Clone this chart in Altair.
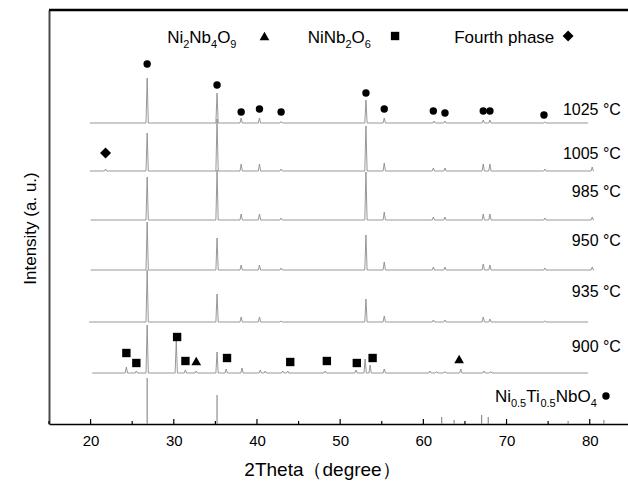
import altair as alt
import pandas as pd

# ---------------- data ----------------
temps = ["1025 °C", "1005 °C", "985 °C", "950 °C", "935 °C", "900 °C"]
offsets = [301, 253, 204, 154, 102, 51]          # vertical stacking offset (a.u.)
trace_start = [19.9, 19.9, 20.0, 20.0, 19.8, 20.2]
trace_end = [79.8, 80.5, 80.5, 80.5, 79.8, 79.8]

pos_1025 = [26.8, 35.2, 38.1, 40.3, 42.9, 53.1, 55.3, 61.3, 62.6, 67.2, 68.0, 74.6]
int_1025 = [45, 30, 5, 5, 1.5, 23, 5, 2, 2, 3, 3, 1]

pos_1005 = [21.8, 26.8, 35.2, 38.1, 40.3, 42.9, 53.1, 55.3, 61.2, 62.6, 67.2, 68.0, 74.6, 80.3]
int_1005 = [2, 38, 52, 7, 7, 2, 45, 8, 3, 3, 7, 7, 2, 4]

pos_985 = [26.8, 35.2, 38.1, 40.3, 42.9, 53.1, 55.3, 61.2, 62.6, 67.2, 68.0, 74.6, 80.3]
int_985 = [43, 50, 6, 6, 2, 48, 8, 3, 3, 6, 6, 2, 3]

pos_950 = [26.8, 35.2, 38.1, 40.3, 42.9, 53.1, 55.3, 61.2, 62.6, 67.2, 68.0, 74.6, 80.3]
int_950 = [48, 32, 5, 5, 2, 35, 8, 3, 3, 6, 5, 2, 3]

pos_935 = [26.8, 35.2, 38.1, 40.3, 42.9, 53.1, 55.3, 61.2, 62.6, 67.2, 68.0, 74.6]
int_935 = [52, 28, 5, 5, 1, 23, 6, 2, 2, 5, 3, 1]

pos_900 = [24.3, 25.5, 26.8, 30.3, 31.4, 32.7, 35.2, 36.3, 38.2, 40.4, 41.0, 43.1, 43.7,
           48.2, 51.9, 53.0, 53.6, 55.3, 60.8, 61.6, 62.6, 64.5, 67.3, 68.1]
int_900 = [6, 2, 48, 32, 3, 2, 21, 4, 5, 3, 2, 2, 2,
           2, 3, 14, 8, 4, 2, 1.5, 1.5, 4, 2, 1.5]

# standard pattern of Ni0.5Ti0.5NbO4
std_pos = [26.8, 35.2, 62.2, 63.7, 67.0, 67.8, 77.4, 81.7]
std_int = [46, 29, 7, 4, 9, 7, 3, 4]

# phase markers
circle_x = [26.8, 35.2, 38.1, 40.3, 42.9, 53.1, 55.3, 61.2, 62.6, 67.2, 68.0, 74.5, 81.95]
circle_y = [360, 339, 312, 315, 312, 331, 315, 313, 311, 313, 313, 309, 28]
square_x = [24.3, 25.5, 30.4, 31.4, 36.4, 44.0, 48.4, 52.0, 53.9, 56.6]
square_y = [71, 61, 87, 63, 66, 62, 63, 61, 66, 388]
triangle_x = [32.7, 64.3, 40.9]
triangle_y = [63, 65, 388]
diamond_x = [21.8, 77.4]
diamond_y = [271, 388]

temp_label_x = 83.75
temp_label_y = [314, 270, 232, 183, 132, 77]

major_ticks = [20, 30, 40, 50, 60, 70, 80]
minor_ticks = [15, 25, 35, 45, 55, 65, 75, 85]

# ---------------- layout constants ----------------
X0, X1 = 15, 84.6
W, H = 579, 414
PX = W / (X1 - X0)        # pixels per degree
FONT = "Liberation Sans, Arial, Helvetica, sans-serif"
HALF = 0.14               # half width of a drawn peak (deg)

# ---------------- build tables ----------------
traces = [(pos_1025, int_1025), (pos_1005, int_1005), (pos_985, int_985),
          (pos_950, int_950), (pos_935, int_935), (pos_900, int_900)]
rows = []
for k, ((pp, ii), off, xs, xe) in enumerate(zip(traces, offsets, trace_start, trace_end)):
    pts = [(xs, off)]
    for p, h in sorted(zip(pp, ii)):
        pts += [(p - HALF, off), (p, off + h), (p + HALF, off)]
    pts.append((xe, off))
    for j, (x, y) in enumerate(pts):
        rows.append({"x": x, "y": y, "trace": temps[k], "o": j})
lines_df = pd.DataFrame(rows)

std_df = pd.DataFrame({"x": std_pos, "y": [0] * len(std_pos), "y2": std_int})

tick_df = pd.DataFrame({
    "x": major_ticks + minor_ticks,
    "y": [0] * (len(major_ticks) + len(minor_ticks)),
    "y2": [5] * len(major_ticks) + [3] * len(minor_ticks),
})

mk = []
for x, y in zip(circle_x, circle_y):
    mk.append({"x": x, "y": y, "shape": "circle", "size": 55})
for x, y in zip(square_x, square_y):
    mk.append({"x": x, "y": y, "shape": "square", "size": 70})
for x, y in zip(triangle_x, triangle_y):
    mk.append({"x": x, "y": y, "shape": "triangle-up", "size": 95})
for x, y in zip(diamond_x, diamond_y):
    mk.append({"x": x, "y": y, "shape": "diamond", "size": 120})
mk_df = pd.DataFrame(mk)

# chemical formulas with subscripts, laid out by Arial/Liberation metrics
ADV = {"N": 722, "i": 222, "b": 556, "O": 778, "T": 611, ".": 278}
def text_w(s, size):
    return sum(ADV.get(c, 556) for c in s) * size / 1000.0

def formula(parts, x_start, y_base, size=17, sub=11, drop=4.5):
    out = []
    x = x_start
    for s, is_sub in parts:
        fs = sub if is_sub else size
        out.append({"x": x, "y": y_base - (drop if is_sub else 0), "text": s, "fs": fs})
        x += text_w(s, fs) / PX
    return out

ann = []
ann += formula([("Ni", 0), ("2", 1), ("Nb", 0), ("4", 1), ("O", 0), ("9", 1)], 29.2, 381)
ann += formula([("NiNb", 0), ("2", 1), ("O", 0), ("6", 1)], 46.1, 381)
ann += [{"x": 63.7, "y": 381, "text": "Fourth phase", "fs": 17}]
ann += formula([("Ni", 0), ("0.5", 1), ("Ti", 0), ("0.5", 1), ("NbO", 0), ("4", 1)], 68.6, 22)
ann_df = pd.DataFrame(ann)

temp_df = pd.DataFrame({"x": [temp_label_x] * len(temps), "y": temp_label_y, "text": temps})

# ---------------- chart ----------------
xs = alt.Scale(domain=[X0, X1], nice=False, zero=False)
ys = alt.Scale(domain=[0, H], nice=False, zero=False)

x_axis = alt.Axis(values=major_ticks, ticks=False, grid=False, labelFontSize=15,
                  labelFont=FONT, labelColor="black", labelPadding=9,
                  domainColor="black", domainWidth=1.5,
                  title="2Theta（degree）", titleFontSize=19, titleFont=FONT,
                  titleFontWeight="normal", titleColor="black",
                  titleX=273, titleY=45, titleBaseline="middle", titleAnchor="start",
                  titleAlign="center")
y_axis = alt.Axis(labels=False, ticks=False, grid=False, domainColor="#4a4a4a",
                  domainWidth=2, title="Intensity (a. u.)", titleFontSize=17,
                  titleFont=FONT, titleFontWeight="normal", titleColor="black",
                  titleX=-19, titleY=218, titleBaseline="middle", titleAlign="center",
                  titleAngle=270)

base = alt.Chart(lines_df)

lines = base.mark_line(color="#8c8c8c", strokeWidth=0.9).encode(
    x=alt.X("x:Q", scale=xs, axis=x_axis),
    y=alt.Y("y:Q", scale=ys, axis=y_axis),
    detail="trace:N",
    order="o:Q",
)

std = alt.Chart(std_df).mark_rule(color="#8c8c8c", strokeWidth=1.2).encode(
    x=alt.X("x:Q", scale=xs), y=alt.Y("y:Q", scale=ys), y2="y2:Q")

ticks = alt.Chart(tick_df).mark_rule(color="black", strokeWidth=1.2).encode(
    x=alt.X("x:Q", scale=xs), y=alt.Y("y:Q", scale=ys), y2="y2:Q")

markers = alt.Chart(mk_df).mark_point(filled=True, color="black", opacity=1).encode(
    x=alt.X("x:Q", scale=xs), y=alt.Y("y:Q", scale=ys),
    shape=alt.Shape("shape:N", scale=None, legend=None),
    size=alt.Size("size:Q", scale=None, legend=None),
)

ann_text = alt.Chart(ann_df).mark_text(align="left", baseline="alphabetic", font=FONT,
                                       color="black").encode(
    x=alt.X("x:Q", scale=xs), y=alt.Y("y:Q", scale=ys), text="text:N",
    size=alt.Size("fs:Q", scale=None, legend=None))

temp_text = alt.Chart(temp_df).mark_text(align="right", baseline="middle", font=FONT,
                                         fontSize=16, color="black").encode(
    x=alt.X("x:Q", scale=xs), y=alt.Y("y:Q", scale=ys), text="text:N")

top_border = alt.Chart(pd.DataFrame({"a": [0]})).mark_rule(
    color="black", strokeWidth=2.5).encode(
    x=alt.value(0), x2=alt.value(W), y=alt.value(0))

chart = alt.layer(lines, std, ticks, markers, ann_text, temp_text, top_border).properties(
    width=W, height=H,
    autosize=alt.AutoSizeParams(type="none"),
    padding={"left": 49, "top": 10, "right": 0, "bottom": 60},
    background="white",
).configure_view(stroke=None)

chart.save("out.html", embed_options={"renderer": "svg", "actions": False})
